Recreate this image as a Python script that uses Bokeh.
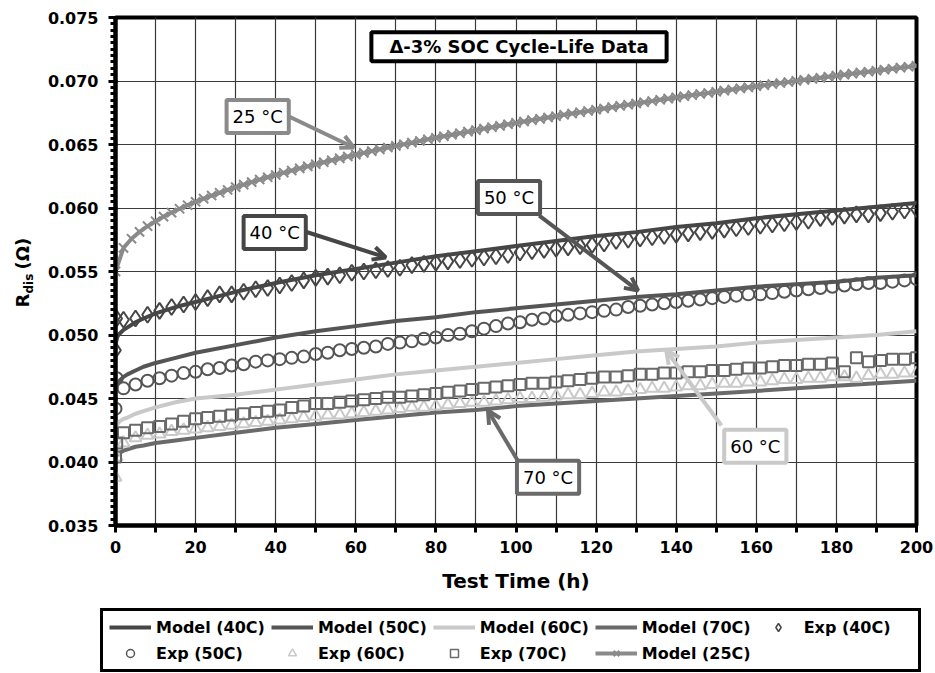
import math
from bokeh.plotting import figure
from bokeh.layouts import column, row
from bokeh.models import (Range1d, FixedTicker, Label, Arrow, OpenHead, Legend,
                          LegendItem, NumeralTickFormatter)
from bokeh.embed import file_html
from bokeh.resources import INLINE

# ---------------- data ----------------
t_model = [0, 0.5, 1, 2, 3, 5, 7, 10, 15, 20, 30, 40, 50, 60, 70, 80, 90, 100,
           110, 120, 130, 140, 150, 160, 170, 180, 190, 200]
model_40 = [0.0493, 0.0499, 0.0501, 0.0504, 0.0506, 0.0510, 0.0513, 0.0517, 0.0522, 0.0526,
            0.0534, 0.0541, 0.0547, 0.0552, 0.0557, 0.0562, 0.0566, 0.0570, 0.0574, 0.0578,
            0.0581, 0.0585, 0.0588, 0.0592, 0.0595, 0.0598, 0.0601, 0.0604]
model_50 = [0.0455, 0.0462, 0.0464, 0.0467, 0.0469, 0.0472, 0.0475, 0.0478, 0.0482, 0.0486,
            0.0492, 0.0498, 0.0503, 0.0507, 0.0511, 0.0514, 0.0518, 0.0521, 0.0524, 0.0527,
            0.0530, 0.0532, 0.0535, 0.0538, 0.0540, 0.0542, 0.0545, 0.0547]
model_60 = [0.0428, 0.0430, 0.0432, 0.0434, 0.0435, 0.0438, 0.0440, 0.0443, 0.0447, 0.0450,
            0.0453, 0.0457, 0.0461, 0.0465, 0.0469, 0.0472, 0.0475, 0.0478, 0.0481, 0.0484,
            0.0487, 0.0489, 0.0491, 0.0494, 0.0496, 0.0498, 0.0500, 0.0503]
model_70 = [0.0404, 0.0406, 0.0407, 0.0409, 0.0410, 0.0412, 0.0413, 0.0415, 0.0417, 0.0419,
            0.0423, 0.0427, 0.0430, 0.0433, 0.0436, 0.0439, 0.0441, 0.0444, 0.0446, 0.0448,
            0.0450, 0.0452, 0.0454, 0.0456, 0.0458, 0.0460, 0.0462, 0.0464]

t_model25 = list(range(0, 201, 2))
model_25 = [0.05500, 0.05686, 0.05758, 0.05812, 0.05857, 0.05896, 0.05932, 0.05964, 0.05994, 0.06022,
            0.06049, 0.06074, 0.06098, 0.06120, 0.06142, 0.06164, 0.06184, 0.06204, 0.06224, 0.06242,
            0.06260, 0.06278, 0.06295, 0.06312, 0.06328, 0.06345, 0.06360, 0.06376, 0.06391, 0.06406,
            0.06420, 0.06434, 0.06448, 0.06462, 0.06476, 0.06489, 0.06502, 0.06515, 0.06528, 0.06541,
            0.06553, 0.06565, 0.06577, 0.06589, 0.06601, 0.06613, 0.06625, 0.06636, 0.06647, 0.06659,
            0.06670, 0.06681, 0.06692, 0.06702, 0.06713, 0.06723, 0.06734, 0.06744, 0.06754, 0.06764,
            0.06774, 0.06784, 0.06794, 0.06804, 0.06813, 0.06823, 0.06833, 0.06842, 0.06852, 0.06861,
            0.06871, 0.06880, 0.06889, 0.06898, 0.06906, 0.06915, 0.06924, 0.06933, 0.06942, 0.06950,
            0.06959, 0.06967, 0.06976, 0.06984, 0.06992, 0.07001, 0.07009, 0.07017, 0.07025, 0.07034,
            0.07042, 0.07050, 0.07058, 0.07066, 0.07073, 0.07081, 0.07089, 0.07097, 0.07105, 0.07112,
            0.07120]

t_exp = [0, 0.3] + list(range(2, 201, 3))
exp_40 = [0.0488, 0.0513, 0.0512, 0.0513, 0.0516, 0.0519, 0.0522, 0.0524, 0.0526, 0.0529,
          0.0532, 0.0532, 0.0534, 0.0536, 0.0537, 0.0539, 0.0541, 0.0543, 0.0545, 0.0546,
          0.0547, 0.0549, 0.0550, 0.0551, 0.0552, 0.0553, 0.0555, 0.0556, 0.0557, 0.0558,
          0.0559, 0.0560, 0.0561, 0.0562, 0.0563, 0.0565, 0.0566, 0.0567, 0.0568, 0.0569,
          0.0570, 0.0571, 0.0572, 0.0574, 0.0575, 0.0576, 0.0577, 0.0578, 0.0579, 0.0580,
          0.0581, 0.0582, 0.0583, 0.0584, 0.0585, 0.0586, 0.0587, 0.0588, 0.0589, 0.0590,
          0.0592, 0.0593, 0.0594, 0.0595, 0.0595, 0.0596, 0.0597, 0.0598, 0.0599]
exp_50 = [0.0442, 0.0466, 0.0458, 0.0461, 0.0464, 0.0466, 0.0468, 0.0470, 0.0471, 0.0473,
          0.0474, 0.0476, 0.0477, 0.0479, 0.0480, 0.0481, 0.0482, 0.0483, 0.0485, 0.0486,
          0.0488, 0.0489, 0.0490, 0.0491, 0.0493, 0.0494, 0.0495, 0.0497, 0.0498, 0.0500,
          0.0501, 0.0503, 0.0505, 0.0507, 0.0509, 0.0510, 0.0512, 0.0513, 0.0515, 0.0516,
          0.0517, 0.0518, 0.0519, 0.0520, 0.0522, 0.0523, 0.0524, 0.0525, 0.0526, 0.0527,
          0.0528, 0.0529, 0.0530, 0.0531, 0.0532, 0.0532, 0.0533, 0.0534, 0.0535, 0.0536,
          0.0537, 0.0538, 0.0539, 0.0540, 0.0541, 0.0541, 0.0542, 0.0543, 0.0544]
exp_60 = [0.0388, 0.0404, 0.0415, 0.0419, 0.0421, 0.0422, 0.0424, 0.0425, 0.0426, 0.0427,
          0.0428, 0.0429, 0.0430, 0.0431, 0.0432, 0.0433, 0.0434, 0.0435, 0.0436, 0.0437,
          0.0437, 0.0438, 0.0439, 0.0440, 0.0441, 0.0442, 0.0443, 0.0443, 0.0444, 0.0445,
          0.0446, 0.0447, 0.0447, 0.0448, 0.0449, 0.0450, 0.0450, 0.0451, 0.0452, 0.0453,
          0.0453, 0.0454, 0.0455, 0.0455, 0.0456, 0.0457, 0.0458, 0.0458, 0.0459, 0.0460,
          0.0460, 0.0461, 0.0462, 0.0462, 0.0463, 0.0463, 0.0464, 0.0465, 0.0465, 0.0466,
          0.0466, 0.0467, 0.0467, 0.0466, 0.0468, 0.0469, 0.0469, 0.0470, 0.0470]
exp_70 = [0.0404, 0.0415, 0.0423, 0.0425, 0.0427, 0.0428, 0.0430, 0.0432, 0.0434, 0.0435,
          0.0436, 0.0437, 0.0438, 0.0439, 0.0440, 0.0441, 0.0443, 0.0444, 0.0446, 0.0446,
          0.0447, 0.0448, 0.0449, 0.0450, 0.0451, 0.0451, 0.0452, 0.0453, 0.0454, 0.0455,
          0.0456, 0.0457, 0.0458, 0.0459, 0.0460, 0.0461, 0.0462, 0.0462, 0.0463, 0.0464,
          0.0465, 0.0466, 0.0467, 0.0467, 0.0468, 0.0469, 0.0469, 0.0470, 0.0470, 0.0471,
          0.0471, 0.0472, 0.0472, 0.0473, 0.0474, 0.0474, 0.0475, 0.0476, 0.0476, 0.0477,
          0.0477, 0.0478, 0.0471, 0.0482, 0.0479, 0.0480, 0.0481, 0.0481, 0.0482]

x_ticks = list(range(0, 201, 10))
y_ticks = [0.035, 0.040, 0.045, 0.050, 0.055, 0.060, 0.065, 0.070, 0.075]

# ---------------- styling ----------------
FONT = "DejaVu Sans"
C40, C50, C60, C70, C25 = "#464646", "#555555", "#c9c9c9", "#6a6a6a", "#8a8a8a"

p = figure(width=895, height=600, output_backend="svg", toolbar_location=None,
           x_range=Range1d(0, 200), y_range=Range1d(0.035, 0.075),
           min_border_left=75, min_border_right=19, min_border_top=17,
           min_border_bottom=75)
p.background_fill_color = "white"
p.border_fill_color = "white"
p.outline_line_color = "black"
p.outline_line_width = 4

# axes
p.xaxis.ticker = FixedTicker(ticks=x_ticks)
p.xaxis.major_label_overrides = {t: ("" if t % 20 else str(t)) for t in x_ticks}
p.yaxis.ticker = FixedTicker(ticks=y_ticks,
                             minor_ticks=[round(0.035 + 0.0005 * i, 4) for i in range(81)])
p.yaxis.formatter = NumeralTickFormatter(format="0.000")
for ax in (p.xaxis, p.yaxis):
    ax.axis_line_width = 4
    ax.axis_line_color = "black"
    ax.major_tick_line_width = 3
    ax.major_tick_line_color = "black"
    ax.major_tick_out = 7
    ax.major_tick_in = 2
    ax.major_label_text_font = FONT
    ax.major_label_text_font_style = "bold"
    ax.major_label_text_font_size = "16px"
    ax.major_label_text_color = "black"
p.yaxis.minor_tick_line_width = 3
p.yaxis.minor_tick_line_color = "black"
p.yaxis.minor_tick_out = 5
p.yaxis.minor_tick_in = 0
p.xaxis.minor_tick_line_color = None
p.yaxis.major_label_standoff = 10
p.xaxis.major_label_standoff = 8
p.xaxis.axis_label = "Test Time (h)"
p.xaxis.axis_label_text_font = FONT
p.xaxis.axis_label_text_font_style = "bold"
p.xaxis.axis_label_text_font_size = "20px"
p.xaxis.axis_label_text_color = "black"
p.xaxis.axis_label_standoff = 13

p.grid.grid_line_color = "#3a3a3a"
p.grid.grid_line_width = 1.2

# series
p.line(t_model, model_40, line_color=C40, line_width=4)
p.line(t_model, model_50, line_color=C50, line_width=4)
p.line(t_model, model_60, line_color=C60, line_width=4)
p.line(t_model, model_70, line_color=C70, line_width=4)
p.scatter(t_exp[:len(exp_40)], exp_40, marker="diamond", size=16,
          line_color=C40, fill_color=None, line_width=2)
p.scatter(t_exp[:len(exp_50)], exp_50, marker="circle", size=12,
          line_color=C50, fill_color=None, line_width=2)
p.scatter(t_exp[:len(exp_60)], exp_60, marker="triangle", size=12,
          line_color=C60, fill_color=None, line_width=2)
p.scatter(t_exp[:len(exp_70)], exp_70, marker="square", size=11,
          line_color=C70, fill_color=None, line_width=2)
p.line(t_model25, model_25, line_color=C25, line_width=4)
p.scatter(t_model25, model_25, marker="x", size=13, line_color=C25, line_width=2)

# annotations
def boxed(x, y, text, color, size="18px", style="normal", pad=(6, 6), lw=4):
    p.add_layout(Label(x=x, y=y, text=text, text_align="center", text_baseline="middle",
                       text_font=FONT, text_font_size=size, text_font_style=style,
                       text_color="black", border_line_color=color, border_line_width=lw,
                       background_fill_color="white", padding=pad))

def arrow(x0, y0, x1, y1, color):
    p.add_layout(Arrow(end=OpenHead(size=13, line_width=4, line_color=color),
                       x_start=x0, y_start=y0, x_end=x1, y_end=y1,
                       line_color=color, line_width=4))

arrow(43.3, 0.0672, 59.5, 0.06476, C25)
arrow(47.3, 0.05815, 67.5, 0.05611, C40)
arrow(105.8, 0.0594, 130.5, 0.0535, C50)
arrow(151.3, 0.04287, 137.5, 0.04878, C60)
arrow(101.3, 0.03965, 93.0, 0.04406, C70)

boxed(100.75, 0.0727, "Δ-3% SOC Cycle-Life Data", "black", size="18px", style="bold",
      pad=(18, 4), lw=4)
boxed(35.5, 0.0672, "25 °C", C25)
boxed(39.75, 0.05807, "40 °C", C40)
boxed(98.25, 0.06083, "50 °C", C50)
boxed(159.75, 0.04124, "60 °C", C60)
boxed(108.0, 0.03880, "70 °C", C70)

# ---------------- y axis title: R_dis (Ω) in a narrow strip ----------------
p_ylab = figure(width=40, height=600, output_backend="svg", toolbar_location=None,
                x_range=Range1d(0, 1), y_range=Range1d(0, 1),
                x_axis_type=None, y_axis_type=None,
                min_border_left=0, min_border_right=0, min_border_top=0, min_border_bottom=0)
p_ylab.outline_line_color = None
p_ylab.background_fill_color = "white"
p_ylab.border_fill_color = "white"
for txt, yy, xx, fs in (("R", 218, 22, "18px"), ("dis", 232, 28, "12px"),
                        ("(Ω)", 256, 22, "18px")):
    p_ylab.add_layout(Label(x=xx, y=yy, x_units="screen", y_units="screen", text=txt,
                            angle=math.pi / 2, text_align="left", text_baseline="middle",
                            text_font=FONT, text_font_style="bold", text_font_size=fs,
                            text_color="black"))

# ---------------- legend strip ----------------
p_leg = figure(width=935, height=73, output_backend="svg", toolbar_location=None,
               x_range=Range1d(0, 1), y_range=Range1d(0, 1),
               x_axis_type=None, y_axis_type=None,
               min_border_left=0, min_border_right=0, min_border_top=0, min_border_bottom=0)
p_leg.outline_line_color = None
p_leg.background_fill_color = "white"
p_leg.border_fill_color = "white"
off = [-5]   # proxy glyphs kept outside the strip's visible range
g40 = p_leg.line(off, off, line_color=C40, line_width=4)
g50 = p_leg.line(off, off, line_color=C50, line_width=4)
g60 = p_leg.line(off, off, line_color=C60, line_width=4)
g70 = p_leg.line(off, off, line_color=C70, line_width=4)
ge40 = p_leg.scatter(off, off, marker="diamond", size=14, line_color=C40, fill_color=None, line_width=1.5)
ge50 = p_leg.scatter(off, off, marker="circle", size=11, line_color=C50, fill_color=None, line_width=1.5)
ge60 = p_leg.scatter(off, off, marker="triangle", size=11, line_color=C60, fill_color=None, line_width=1.5)
ge70 = p_leg.scatter(off, off, marker="square", size=10, line_color=C70, fill_color=None, line_width=1.5)
g25l = p_leg.line(off, off, line_color=C25, line_width=4)
g25s = p_leg.scatter(off, off, marker="x", size=14, line_color=C25, line_width=2)

items = [
    LegendItem(label="Model (40C)", renderers=[g40]),
    LegendItem(label="Model (50C)", renderers=[g50]),
    LegendItem(label="Model (60C)", renderers=[g60]),
    LegendItem(label="Model (70C)", renderers=[g70]),
    LegendItem(label="Exp (40C)", renderers=[ge40]),
    LegendItem(label="Exp (50C)", renderers=[ge50]),
    LegendItem(label="Exp (60C)", renderers=[ge60]),
    LegendItem(label="Exp (70C)", renderers=[ge70]),
    LegendItem(label="Model (25C)", renderers=[g25l, g25s]),
]
legend = Legend(items=items, orientation="horizontal", ncols=5, location=(100, 1),
                label_text_font=FONT, label_text_font_style="bold",
                label_text_font_size="16px", label_text_color="black",
                glyph_width=42, glyph_height=20, label_width=108,
                label_standoff=5, spacing=6, padding=6, margin=0,
                border_line_color="black", border_line_width=3, border_line_alpha=1.0,
                background_fill_color="white", background_fill_alpha=1.0)
p_leg.add_layout(legend, "center")

layout = column(row(p_ylab, p, spacing=0), p_leg, spacing=0)
open("out.html", "w").write(file_html(layout, INLINE))
